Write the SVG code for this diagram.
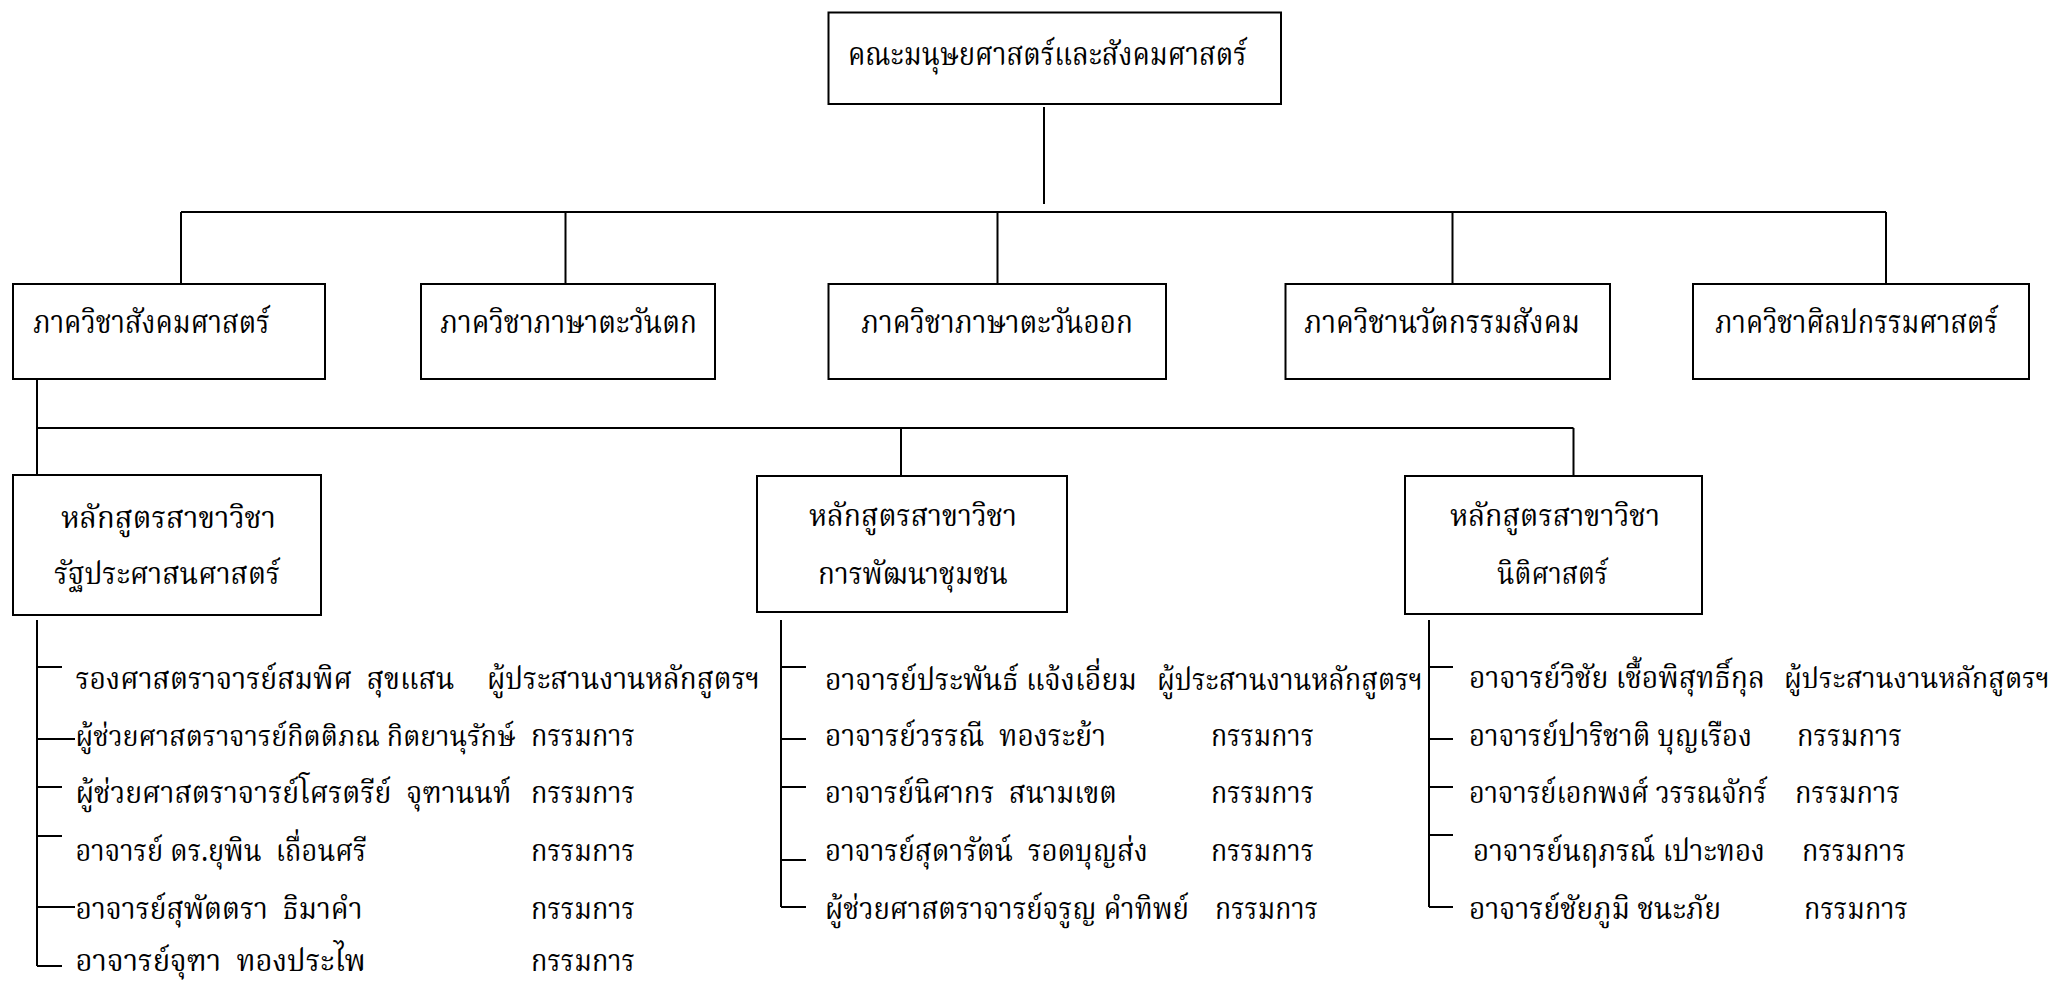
<svg xmlns="http://www.w3.org/2000/svg" width="2062" height="983" viewBox="0 0 2062 983">
<style>
.bg{fill:#fff}
.box{fill:#fff;stroke:#000;stroke-width:2}
.ln{stroke:#000;stroke-width:2;fill:none}
text{font-family:"Noto Serif Thai","Noto Sans Thai","Noto Sans",serif;font-size:30px;fill:#000;white-space:pre}
.h{font-size:32px}
.s{font-size:28px}
</style>
<rect class="bg" x="0" y="0" width="2062" height="983"/>
<g id="connectors">
<path class="ln" d="M1044 107V204M181 212H1886M181 212V284M565.5 212V284M997.5 212V284M1452.5 212V284M1886 212V284"/>
<path class="ln" d="M37 379V475M37 428H1573.5M901 428V475M1573.5 428V475"/>
<path class="ln" d="M37 620V966M37 667H62M37 739H75M37 787H62M37 836H62M37 907H75M37 966H62"/>
<path class="ln" d="M781 620V907M781 667H806M781 739H806M781 787H806M781 860H806M781 907H806"/>
<path class="ln" d="M1429 620V907M1429 667H1453M1429 739H1453M1429 787H1453M1429 835H1453M1429 907H1453"/>
</g>
<g id="faculty"><rect class="box" x="828.5" y="12.5" width="452.5" height="91.5"/><text class="h" x="848" y="65" textLength="399" lengthAdjust="spacingAndGlyphs">คณะมนุษยศาสตร์และสังคมศาสตร์</text></g>
<g id="dept-social"><rect class="box" x="13" y="284" width="312" height="95"/><text class="h" x="33" y="333" textLength="237" lengthAdjust="spacingAndGlyphs">ภาควิชาสังคมศาสตร์</text></g>
<g id="dept-west"><rect class="box" x="421" y="284" width="294" height="95"/><text class="h" x="440" y="333" textLength="257" lengthAdjust="spacingAndGlyphs">ภาควิชาภาษาตะวันตก</text></g>
<g id="dept-east"><rect class="box" x="828.5" y="284" width="337.5" height="95"/><text class="h" x="861" y="333" textLength="272" lengthAdjust="spacingAndGlyphs">ภาควิชาภาษาตะวันออก</text></g>
<g id="dept-innovation"><rect class="box" x="1285.5" y="284" width="324.5" height="95"/><text class="h" x="1304" y="333" textLength="276" lengthAdjust="spacingAndGlyphs">ภาควิชานวัตกรรมสังคม</text></g>
<g id="dept-arts"><rect class="box" x="1693" y="284" width="336" height="95"/><text class="h" x="1715" y="333" textLength="283" lengthAdjust="spacingAndGlyphs">ภาควิชาศิลปกรรมศาสตร์</text></g>
<g id="prog-pa"><rect class="box" x="13" y="475" width="308" height="140"/>
<text x="61" y="528" textLength="215" lengthAdjust="spacingAndGlyphs">หลักสูตรสาขาวิชา</text>
<text x="54" y="584" textLength="226" lengthAdjust="spacingAndGlyphs">รัฐประศาสนศาสตร์</text></g>
<g id="prog-cd"><rect class="box" x="757" y="476" width="310" height="136"/>
<text x="809" y="526" textLength="208" lengthAdjust="spacingAndGlyphs">หลักสูตรสาขาวิชา</text>
<text x="818" y="584" textLength="190" lengthAdjust="spacingAndGlyphs">การพัฒนาชุมชน</text></g>
<g id="prog-law"><rect class="box" x="1405" y="476" width="297" height="138"/>
<text x="1450" y="526" textLength="210" lengthAdjust="spacingAndGlyphs">หลักสูตรสาขาวิชา</text>
<text x="1497" y="584" textLength="111" lengthAdjust="spacingAndGlyphs">นิติศาสตร์</text></g>
<g id="members-pa">
<text x="75.5" y="689" textLength="379" lengthAdjust="spacingAndGlyphs">รองศาสตราจารย์สมพิศ  สุขแสน</text><text x="487" y="689" textLength="273" lengthAdjust="spacingAndGlyphs">ผู้ประสานงานหลักสูตรฯ</text>
<text class="s" x="75.5" y="746" textLength="440" lengthAdjust="spacingAndGlyphs">ผู้ช่วยศาสตราจารย์กิตติภณ กิตยานุรักษ์</text><text x="531" y="746" textLength="104" lengthAdjust="spacingAndGlyphs">กรรมการ</text>
<text x="75.5" y="803" textLength="436" lengthAdjust="spacingAndGlyphs">ผู้ช่วยศาสตราจารย์โศรตรีย์  จุฑานนท์</text><text x="531" y="803" textLength="104" lengthAdjust="spacingAndGlyphs">กรรมการ</text>
<text x="75.5" y="861" textLength="291" lengthAdjust="spacingAndGlyphs">อาจารย์ ดร.ยุพิน  เถื่อนศรี</text><text x="531" y="861" textLength="104" lengthAdjust="spacingAndGlyphs">กรรมการ</text>
<text x="75.5" y="919" textLength="287" lengthAdjust="spacingAndGlyphs">อาจารย์สุพัตตรา  ธิมาคำ</text><text x="531" y="919" textLength="104" lengthAdjust="spacingAndGlyphs">กรรมการ</text>
<text x="75.5" y="971" textLength="290" lengthAdjust="spacingAndGlyphs">อาจารย์จุฑา  ทองประไพ</text><text x="531" y="971" textLength="104" lengthAdjust="spacingAndGlyphs">กรรมการ</text>
</g>
<g id="members-cd">
<text x="825" y="690" textLength="312" lengthAdjust="spacingAndGlyphs">อาจารย์ประพันธ์ แจ้งเอี่ยม</text><text x="1157" y="690" textLength="266" lengthAdjust="spacingAndGlyphs">ผู้ประสานงานหลักสูตรฯ</text>
<text x="825" y="746" textLength="281" lengthAdjust="spacingAndGlyphs">อาจารย์วรรณี  ทองระย้า</text><text x="1211" y="746" textLength="103" lengthAdjust="spacingAndGlyphs">กรรมการ</text>
<text x="825" y="803" textLength="292" lengthAdjust="spacingAndGlyphs">อาจารย์นิศากร  สนามเขต</text><text x="1211" y="803" textLength="103" lengthAdjust="spacingAndGlyphs">กรรมการ</text>
<text x="825" y="861" textLength="323" lengthAdjust="spacingAndGlyphs">อาจารย์สุดารัตน์  รอดบุญส่ง</text><text x="1211" y="861" textLength="103" lengthAdjust="spacingAndGlyphs">กรรมการ</text>
<text x="825" y="919" textLength="364" lengthAdjust="spacingAndGlyphs">ผู้ช่วยศาสตราจารย์จรูญ คำทิพย์</text><text x="1215" y="919" textLength="103" lengthAdjust="spacingAndGlyphs">กรรมการ</text>
</g>
<g id="members-law">
<text x="1469" y="688" textLength="296" lengthAdjust="spacingAndGlyphs">อาจารย์วิชัย เชื้อพิสุทธิ์กุล</text><text class="s" x="1784" y="688" textLength="266" lengthAdjust="spacingAndGlyphs">ผู้ประสานงานหลักสูตรฯ</text>
<text x="1469" y="746" textLength="283" lengthAdjust="spacingAndGlyphs">อาจารย์ปาริชาติ บุญเรือง</text><text x="1797" y="746" textLength="105" lengthAdjust="spacingAndGlyphs">กรรมการ</text>
<text x="1469" y="803" textLength="298" lengthAdjust="spacingAndGlyphs">อาจารย์เอกพงศ์ วรรณจักร์</text><text x="1795" y="803" textLength="105" lengthAdjust="spacingAndGlyphs">กรรมการ</text>
<text x="1473" y="861" textLength="292" lengthAdjust="spacingAndGlyphs">อาจารย์นฤภรณ์ เปาะทอง</text><text x="1802" y="861" textLength="104" lengthAdjust="spacingAndGlyphs">กรรมการ</text>
<text x="1469" y="919" textLength="252" lengthAdjust="spacingAndGlyphs">อาจารย์ชัยภูมิ ชนะภัย</text><text x="1804" y="919" textLength="104" lengthAdjust="spacingAndGlyphs">กรรมการ</text>
</g>
</svg>
